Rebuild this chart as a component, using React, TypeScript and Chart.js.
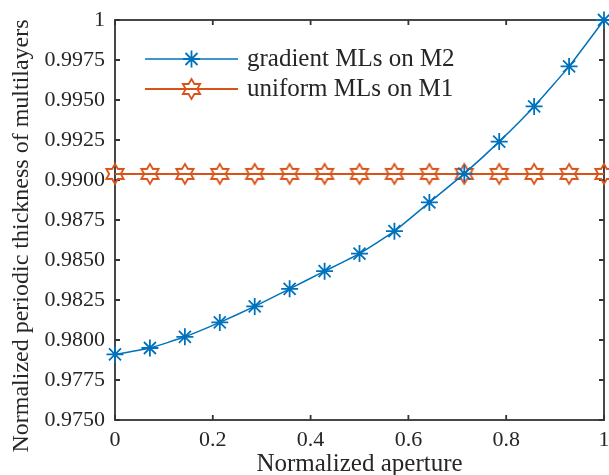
import React, { useEffect, useRef } from 'react';
import { Chart, registerables } from 'chart.js';

Chart.register(...registerables);

// Normalized aperture positions of the sampled points
const aperture = [0, 0.0714, 0.1429, 0.2143, 0.2857, 0.3571, 0.4286, 0.5, 0.5714, 0.6429, 0.7143, 0.7857, 0.8571, 0.9286, 1];

// Normalized periodic thickness for each coating design
const gradientM2 = [0.9791, 0.9795, 0.9802, 0.9811, 0.9821, 0.9832, 0.9843, 0.9854, 0.9868, 0.9886, 0.9904, 0.9924, 0.9946, 0.9971, 1.0];
const uniformM1 = [0.99038, 0.99038, 0.99038, 0.99038, 0.99038, 0.99038, 0.99038, 0.99038, 0.99038, 0.99038, 0.99038, 0.99038, 0.99038, 0.99038, 0.99038];

const seriesNames = ['gradient MLs on M2', 'uniform MLs on M1'];

const xTickValues = [0, 0.2, 0.4, 0.6, 0.8, 1];
const xTickLabels = ['0', '0.2', '0.4', '0.6', '0.8', '1'];
const yTickValues = [0.975, 0.9775, 0.98, 0.9825, 0.985, 0.9875, 0.99, 0.9925, 0.995, 0.9975, 1];
const yTickLabels = ['0.9750', '0.9775', '0.9800', '0.9825', '0.9850', '0.9875', '0.9900', '0.9925', '0.9950', '0.9975', '1'];

const xTitle = 'Normalized aperture';
const yTitle = 'Normalized periodic thickness of multilayers';

const BLUE = '#0072BD';
const ORANGE = '#D95319';
const AXIS = '#333333';
const TEXT = '#262626';
const FONT = '"Liberation Serif", "Times New Roman", serif';

function traceHexagram(ctx: CanvasRenderingContext2D, cx: number, cy: number, R: number) {
  const r = R / Math.sqrt(3);
  ctx.beginPath();
  for (let i = 0; i < 12; i++) {
    const ang = -Math.PI / 2 + (i * Math.PI) / 6;
    const rad = i % 2 === 0 ? R : r;
    const px = cx + rad * Math.cos(ang);
    const py = cy + rad * Math.sin(ang);
    if (i === 0) ctx.moveTo(px, py);
    else ctx.lineTo(px, py);
  }
  ctx.closePath();
}

function traceAsterisk(ctx: CanvasRenderingContext2D, cx: number, cy: number, r: number) {
  const d = r * Math.SQRT1_2;
  ctx.beginPath();
  ctx.moveTo(cx - r, cy); ctx.lineTo(cx + r, cy);
  ctx.moveTo(cx, cy - r); ctx.lineTo(cx, cy + r);
  ctx.moveTo(cx - d, cy - d); ctx.lineTo(cx + d, cy + d);
  ctx.moveTo(cx - d, cy + d); ctx.lineTo(cx + d, cy - d);
}

function makeHexagramImage(): HTMLCanvasElement {
  const c = document.createElement('canvas');
  c.width = 26;
  c.height = 26;
  const g = c.getContext('2d')!;
  g.strokeStyle = ORANGE;
  g.lineWidth = 1.8;
  g.lineJoin = 'miter';
  traceHexagram(g, 13, 13, 10);
  g.stroke();
  return c;
}

// Full box with inward tick marks on all four sides
const framePlugin = {
  id: 'frameBox',
  beforeDatasetsDraw(chart: any) {
    const { ctx, chartArea } = chart;
    const { left, right, top, bottom } = chartArea;
    const xs = chart.scales.x;
    const ys = chart.scales.y;
    const tl = 5;
    ctx.save();
    ctx.strokeStyle = AXIS;
    ctx.lineWidth = 1.8;
    ctx.strokeRect(left, top, right - left, bottom - top);
    ctx.beginPath();
    xTickValues.forEach((v) => {
      const px = xs.getPixelForValue(v);
      ctx.moveTo(px, bottom); ctx.lineTo(px, bottom - tl);
      ctx.moveTo(px, top); ctx.lineTo(px, top + tl);
    });
    yTickValues.forEach((v) => {
      const py = ys.getPixelForValue(v);
      ctx.moveTo(left, py); ctx.lineTo(left + tl, py);
      ctx.moveTo(right, py); ctx.lineTo(right - tl, py);
    });
    ctx.stroke();
    ctx.restore();
  },
};

// Legend (line + marker samples) and the rotated y-axis title
const annotationsPlugin = {
  id: 'legendAndTitle',
  afterDraw(chart: any) {
    const { ctx, chartArea } = chart;
    const { left, top } = chartArea;
    ctx.save();

    const x0 = left + 30;
    const x1 = left + 123;
    const xm = (x0 + x1) / 2;
    const rows = [top + 39, top + 69];

    // gradient MLs on M2
    ctx.strokeStyle = BLUE;
    ctx.lineWidth = 1.5;
    ctx.beginPath();
    ctx.moveTo(x0, rows[0]); ctx.lineTo(x1, rows[0]);
    ctx.stroke();
    ctx.lineWidth = 1.8;
    traceAsterisk(ctx, xm, rows[0], 8.5);
    ctx.stroke();

    // uniform MLs on M1
    ctx.strokeStyle = ORANGE;
    ctx.lineWidth = 2;
    ctx.beginPath();
    ctx.moveTo(x0, rows[1]); ctx.lineTo(x1, rows[1]);
    ctx.stroke();
    ctx.lineWidth = 1.8;
    traceHexagram(ctx, xm, rows[1], 10);
    ctx.stroke();

    ctx.fillStyle = TEXT;
    ctx.font = `25px ${FONT}`;
    ctx.textAlign = 'left';
    ctx.textBaseline = 'alphabetic';
    ctx.fillText(seriesNames[0], x1 + 9, rows[0] + 7);
    ctx.fillText(seriesNames[1], x1 + 9, rows[1] + 7);

    // y-axis title
    ctx.font = `24px ${FONT}`;
    ctx.translate(28, 236);
    ctx.rotate(-Math.PI / 2);
    ctx.textAlign = 'center';
    ctx.fillText(yTitle, 0, 0);
    ctx.restore();
  },
};

export default function App() {
  const canvasRef = useRef<HTMLCanvasElement | null>(null);

  useEffect(() => {
    const canvas = canvasRef.current;
    if (!canvas) return;
    const hexagram = makeHexagramImage();

    const chart = new Chart(canvas, {
      type: 'line',
      data: {
        datasets: [
          {
            label: seriesNames[0],
            data: aperture.map((x, i) => ({ x, y: gradientM2[i] })),
            borderColor: BLUE,
            backgroundColor: BLUE,
            borderWidth: 1.5,
            pointStyle: 'star',
            pointRadius: 8.5,
            pointBorderWidth: 1.8,
            pointBorderColor: BLUE,
            tension: 0.15,
            clip: false,
          },
          {
            label: seriesNames[1],
            data: aperture.map((x, i) => ({ x, y: uniformM1[i] })),
            borderColor: ORANGE,
            backgroundColor: ORANGE,
            borderWidth: 2,
            pointStyle: hexagram,
            pointRadius: 10,
            tension: 0,
            clip: false,
          },
        ],
      },
      options: {
        responsive: false,
        animation: false,
        devicePixelRatio: 1,
        events: [],
        layout: { autoPadding: false, padding: { top: 20, right: 5, left: 0, bottom: 0 } },
        plugins: {
          legend: { display: false },
          tooltip: { enabled: false },
        },
        scales: {
          x: {
            type: 'linear',
            min: 0,
            max: 1,
            afterBuildTicks: (scale: any) => {
              scale.ticks = xTickValues.map((value) => ({ value }));
            },
            afterFit: (scale: any) => {
              scale.height = 55;
              scale.paddingLeft = 0;
              scale.paddingRight = 0;
            },
            ticks: {
              autoSkip: false,
              maxRotation: 0,
              padding: 7,
              color: TEXT,
              font: { family: FONT, size: 22 },
              callback: (_v: any, i: number) => xTickLabels[i],
            },
            grid: { display: false, drawTicks: false },
            border: { display: false },
            title: {
              display: true,
              text: xTitle,
              color: TEXT,
              font: { family: FONT, size: 25, lineHeight: 1 },
              padding: { top: 0, bottom: -2 },
            },
          },
          y: {
            type: 'linear',
            min: 0.975,
            max: 1,
            afterBuildTicks: (scale: any) => {
              scale.ticks = yTickValues.map((value) => ({ value }));
            },
            afterFit: (scale: any) => {
              scale.width = 115;
              scale.paddingTop = 0;
              scale.paddingBottom = 0;
            },
            ticks: {
              autoSkip: false,
              padding: 10,
              color: TEXT,
              font: { family: FONT, size: 22 },
              callback: (_v: any, i: number) => yTickLabels[i],
            },
            grid: { display: false, drawTicks: false },
            border: { display: false },
          },
        },
      },
      plugins: [framePlugin, annotationsPlugin],
    } as any);

    return () => chart.destroy();
  }, []);

  return (
    <div style={{ position: 'absolute', left: 0, top: 0, width: 609, height: 475, background: '#ffffff' }}>
      <canvas ref={canvasRef} width={609} height={475} style={{ display: 'block' }} />
    </div>
  );
}
